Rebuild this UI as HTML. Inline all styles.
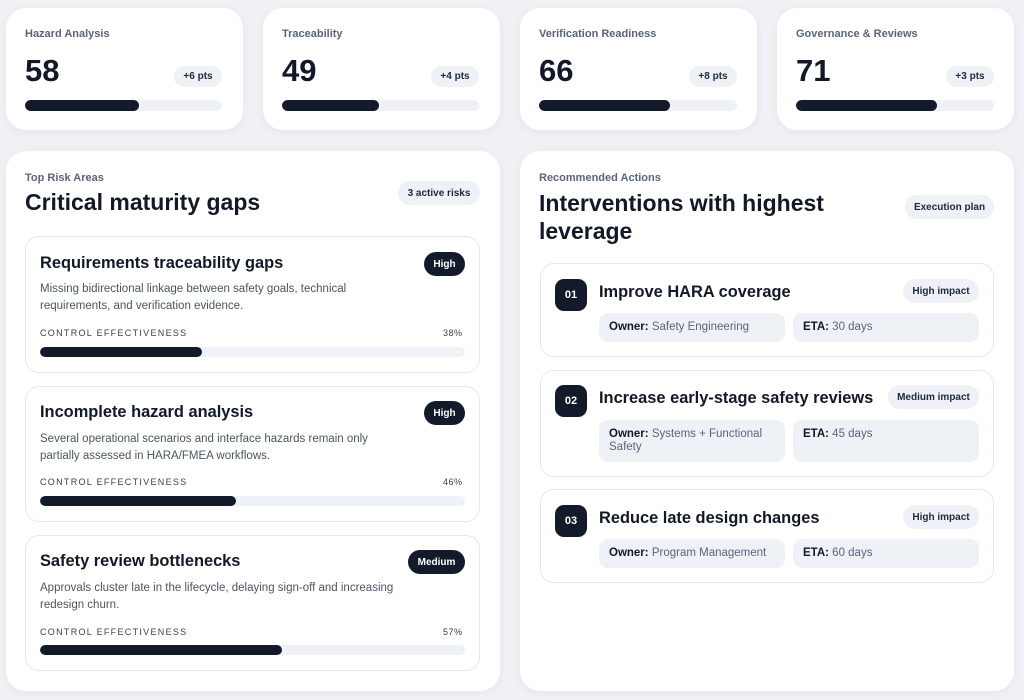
<!DOCTYPE html><html><head><style>
*{box-sizing:border-box;margin:0;padding:0}
body{width:1024px;height:700px;background:#eff1f4;font-family:"Liberation Sans",sans-serif;position:relative;overflow:hidden;color:#111827}
.a{position:absolute}
.card{position:absolute;background:#fff;border-radius:20px;box-shadow:0 2px 10px rgba(0,0,0,.05)}
.lbl{position:absolute;font-size:11px;font-weight:bold;color:#5a6478}
.num{position:absolute;font-size:31px;font-weight:bold;color:#111827}
.pill{position:absolute;background:#eef1f6;border-radius:12px;font-size:10px;font-weight:bold;color:#1f2937;display:flex;align-items:center;justify-content:center}
.bar{position:absolute;height:11px;background:#eef1f6;border-radius:6px;overflow:hidden}
.bar i{display:block;height:100%;background:#131a2a;border-radius:6px}
.rc{position:absolute;border:1px solid #e3e7ee;border-radius:14px;background:#fff}
.t{position:absolute;font-size:16.4px;font-weight:bold}
.d{position:absolute;font-size:11.5px;color:#4b5563;line-height:17px}
.ce{position:absolute;font-size:9px;letter-spacing:1.3px;color:#374151}
.badge{position:absolute;background:#131a2a;color:#fff;border-radius:12px;font-size:10px;font-weight:bold;display:flex;align-items:center;justify-content:center}
.nb{position:absolute;width:32px;height:32px;background:#131a2a;color:#fff;border-radius:9px;font-size:11px;font-weight:bold;display:flex;align-items:center;justify-content:center}
.ob{position:absolute;background:#eef1f6;border-radius:9px;font-size:11.5px;color:#5a6478;padding:8px 10px;line-height:13px}
.ob b{color:#111827}
</style></head><body>
<div class="card" style="left:6px;top:8px;width:237px;height:122px"></div>
<div class="card" style="left:263px;top:8px;width:237px;height:122px"></div>
<div class="card" style="left:520px;top:8px;width:237px;height:122px"></div>
<div class="card" style="left:777px;top:8px;width:237px;height:122px"></div>

<div class="lbl" style="left:25px;top:28px">Hazard Analysis</div>
<div class="num" style="left:25px;top:53px">58</div>
<div class="pill" style="left:174px;top:66px;width:48px;height:21px">+6 pts</div>
<div class="bar" style="left:25px;top:100px;width:197px"><i style="width:58%"></i></div>

<div class="lbl" style="left:282px;top:28px">Traceability</div>
<div class="num" style="left:282px;top:53px">49</div>
<div class="pill" style="left:431px;top:66px;width:48px;height:21px">+4 pts</div>
<div class="bar" style="left:282px;top:100px;width:197px"><i style="width:49%"></i></div>

<div class="lbl" style="left:539px;top:28px">Verification Readiness</div>
<div class="num" style="left:539px;top:53px">66</div>
<div class="pill" style="left:689px;top:66px;width:48px;height:21px">+8 pts</div>
<div class="bar" style="left:539px;top:100px;width:198px"><i style="width:66%"></i></div>

<div class="lbl" style="left:796px;top:28px">Governance &amp; Reviews</div>
<div class="num" style="left:796px;top:53px">71</div>
<div class="pill" style="left:946px;top:66px;width:48px;height:21px">+3 pts</div>
<div class="bar" style="left:796px;top:100px;width:198px"><i style="width:71%"></i></div>

<div class="card" style="left:6px;top:151px;width:494px;height:540px"></div>
<div class="card" style="left:520px;top:151px;width:494px;height:540px"></div>

<div class="lbl" style="left:25px;top:172px">Top Risk Areas</div>
<div class="a" style="left:25px;top:189px;font-size:23px;font-weight:bold">Critical maturity gaps</div>
<div class="pill" style="left:398px;top:181px;width:82px;height:24px">3 active risks</div>

<div class="rc" style="left:25px;top:236px;width:455px;height:137px"></div>
<div class="t" style="left:40px;top:254px">Requirements traceability gaps</div>
<div class="badge" style="left:424px;top:252px;width:41px;height:24px">High</div>
<div class="d" style="left:40px;top:281px;width:340px">Missing bidirectional linkage between safety goals, technical requirements, and verification evidence.</div>
<div class="ce" style="left:40px;top:328px">CONTROL EFFECTIVENESS</div>
<div class="ce" style="left:443px;top:328px;letter-spacing:.5px">38%</div>
<div class="bar" style="left:40px;top:347px;width:425px;height:10px"><i style="width:38%"></i></div>

<div class="rc" style="left:25px;top:386px;width:455px;height:136px"></div>
<div class="t" style="left:40px;top:403px">Incomplete hazard analysis</div>
<div class="badge" style="left:424px;top:401px;width:41px;height:24px">High</div>
<div class="d" style="left:40px;top:431px;width:350px">Several operational scenarios and interface hazards remain only partially assessed in HARA/FMEA workflows.</div>
<div class="ce" style="left:40px;top:477px">CONTROL EFFECTIVENESS</div>
<div class="ce" style="left:443px;top:477px;letter-spacing:.5px">46%</div>
<div class="bar" style="left:40px;top:496px;width:425px;height:10px"><i style="width:46%"></i></div>

<div class="rc" style="left:25px;top:535px;width:455px;height:136px"></div>
<div class="t" style="left:40px;top:552px">Safety review bottlenecks</div>
<div class="badge" style="left:408px;top:550px;width:57px;height:24px">Medium</div>
<div class="d" style="left:40px;top:580px;width:370px">Approvals cluster late in the lifecycle, delaying sign-off and increasing redesign churn.</div>
<div class="ce" style="left:40px;top:627px">CONTROL EFFECTIVENESS</div>
<div class="ce" style="left:443px;top:627px;letter-spacing:.5px">57%</div>
<div class="bar" style="left:40px;top:645px;width:425px;height:10px"><i style="width:57%"></i></div>

<div class="lbl" style="left:539px;top:172px">Recommended Actions</div>
<div class="a" style="left:539px;top:189px;font-size:23px;font-weight:bold;line-height:28px;width:330px">Interventions with highest leverage</div>
<div class="pill" style="left:905px;top:195px;width:89px;height:24px">Execution plan</div>

<div class="rc" style="left:540px;top:263px;width:454px;height:94px"></div>
<div class="nb" style="left:555px;top:279px">01</div>
<div class="t" style="left:599px;top:283px">Improve HARA coverage</div>
<div class="pill" style="left:903px;top:279px;width:76px;height:24px">High impact</div>
<div class="ob" style="left:599px;top:313px;width:186px;height:29px"><b>Owner:</b> Safety Engineering</div>
<div class="ob" style="left:793px;top:313px;width:186px;height:29px"><b>ETA:</b> 30 days</div>

<div class="rc" style="left:540px;top:370px;width:454px;height:107px"></div>
<div class="nb" style="left:555px;top:385px">02</div>
<div class="t" style="left:599px;top:389px">Increase early-stage safety reviews</div>
<div class="pill" style="left:888px;top:385px;width:91px;height:24px">Medium impact</div>
<div class="ob" style="left:599px;top:420px;width:186px;height:42px"><b>Owner:</b> Systems + Functional Safety</div>
<div class="ob" style="left:793px;top:420px;width:186px;height:42px"><b>ETA:</b> 45 days</div>

<div class="rc" style="left:540px;top:489px;width:454px;height:94px"></div>
<div class="nb" style="left:555px;top:505px">03</div>
<div class="t" style="left:599px;top:509px">Reduce late design changes</div>
<div class="pill" style="left:903px;top:505px;width:76px;height:24px">High impact</div>
<div class="ob" style="left:599px;top:539px;width:186px;height:29px"><b>Owner:</b> Program Management</div>
<div class="ob" style="left:793px;top:539px;width:186px;height:29px"><b>ETA:</b> 60 days</div>
</body></html>
